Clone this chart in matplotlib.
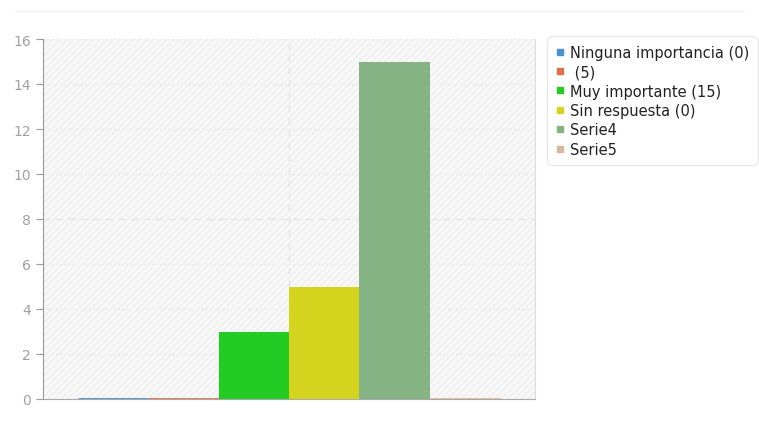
import numpy as np
import matplotlib.pyplot as plt
from matplotlib.lines import Line2D
from matplotlib.patches import Rectangle

labels = ['Ninguna importancia (0)', ' (5)', 'Muy importante (15)', 'Sin respuesta (0)', 'Serie4', 'Serie5']
values = [0, 0, 3, 5, 15, 0]
colors = ['#4a8fd0', '#e0704a', '#22cc22', '#d4d41e', '#86b383', '#d8b89a']

fig = plt.figure(figsize=(7.59, 4.35), dpi=100)
ax = fig.add_axes([43/759, 1-400/435, 492/759, 360/435])

ax.set_facecolor('#f8f8f8')
ax.add_patch(Rectangle((0, 0), 1, 1, transform=ax.transAxes, facecolor='none',
                       edgecolor='#eeeeee', hatch='/////', lw=0, zorder=0))

x = np.arange(len(values))
for i in range(len(values)):
    if values[i] == 0:
        ax.plot([x[i]-0.5, x[i]+0.5], [0, 0], color=colors[i], lw=2, zorder=3, solid_capstyle='butt')
    else:
        ax.bar(x[i], values[i], width=1.0, color=colors[i], zorder=3)

ax.set_xlim(-1.0, 6.0)
ax.set_ylim(0, 16)
ax.set_yticks(range(0, 17, 2))
ax.set_xticks([])

for y in range(2, 17, 2):
    if y == 8:
        ax.axhline(y, color='#e4e4e4', lw=1, ls=(0, (5, 4)), zorder=1)
    else:
        ax.axhline(y, color='#e8e8e8', lw=1, ls=(0, (1, 2)), zorder=1)
ax.axvline(2.5, color='#e4e4e4', lw=1, ls=(0, (5, 4)), zorder=1)

ax.spines['top'].set_visible(False)
ax.spines['right'].set_color('#dddddd')
ax.spines['left'].set_color('#999999')
ax.spines['bottom'].set_color('#aaaaaa')
ax.tick_params(axis='y', colors='#999999', labelsize=10, length=5, direction='out')
ax.tick_params(axis='y', labelcolor='#a0a0a0')

handles = [Line2D([], [], marker='s', ls='none', color=c, markersize=4) for c in colors]
leg = fig.legend(handles, labels, loc='upper left', bbox_to_anchor=(547/759, 1-37/435),
                 fontsize=10.5, frameon=True, handletextpad=0.35, labelspacing=0.3,
                 borderpad=0.6, handlelength=0.6, borderaxespad=0)
leg.get_frame().set_edgecolor('#e4e4e4')
leg.get_frame().set_linewidth(1)
leg.get_frame().set_boxstyle('round', pad=0.0, rounding_size=0.4)
for t in leg.get_texts():
    t.set_color('#222222')

fig.add_artist(Line2D([0.02, 0.98], [1-12/435, 1-12/435], color='#f2f2f2', lw=1))

fig.savefig('out.png')
